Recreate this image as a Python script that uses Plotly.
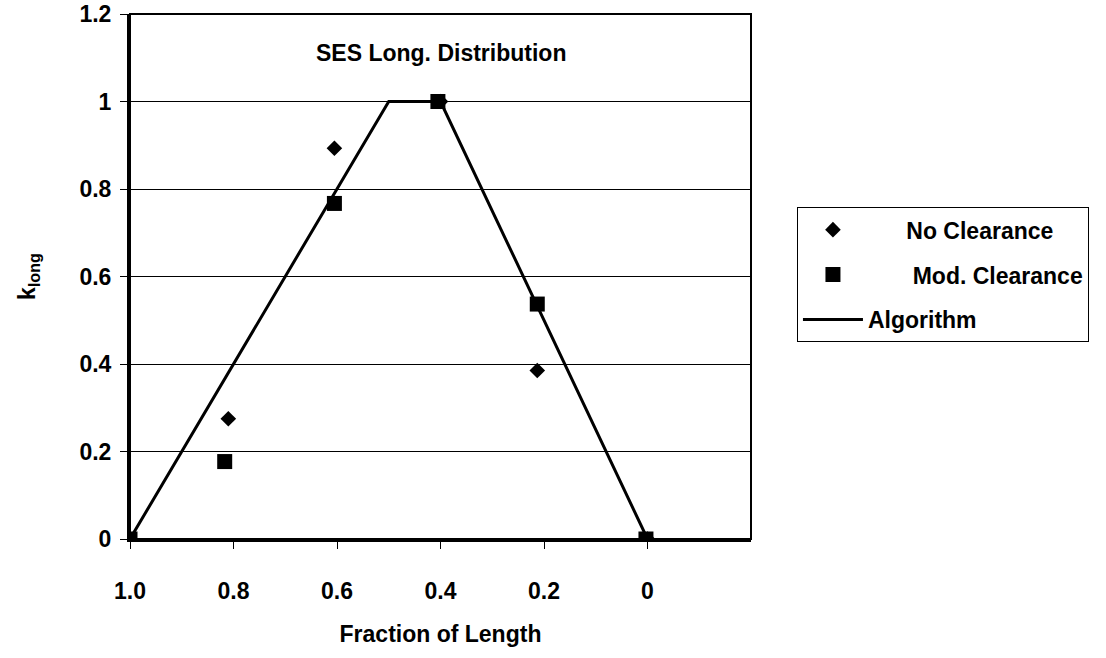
import plotly.graph_objects as go

# ---- data ----
x_ticks = [1.0, 0.8, 0.6, 0.4, 0.2, 0.0]
x_tick_labels = ["1.0", "0.8", "0.6", "0.4", "0.2", "0"]
y_ticks = [0, 0.2, 0.4, 0.6, 0.8, 1.0, 1.2]
y_tick_labels = ["0", "0.2", "0.4", "0.6", "0.8", "1", "1.2"]

no_clear_x = [1.0, 0.81, 0.605, 0.4, 0.213, 0.0]
no_clear_y = [0.0, 0.275, 0.893, 1.0, 0.385, 0.0]

mod_clear_x = [1.0, 0.817, 0.605, 0.405, 0.213, 0.003]
mod_clear_y = [0.0, 0.177, 0.767, 1.0, 0.537, 0.0]

algo_x = [1.0, 0.5, 0.4, 0.0]
algo_y = [0.0, 1.0, 1.0, 0.0]

FONT = "Liberation Sans, Arial, sans-serif"
FS = 23

fig = go.Figure()
fig.add_trace(go.Scatter(
    x=algo_x, y=algo_y, mode="lines", name="Algorithm",
    line=dict(color="black", width=3), showlegend=False))
fig.add_trace(go.Scatter(
    x=no_clear_x, y=no_clear_y, mode="markers", name="      No Clearance",
    legendgroup="a",
    marker=dict(symbol="diamond", size=12, color="black")))
fig.add_trace(go.Scatter(
    x=mod_clear_x, y=mod_clear_y, mode="markers", name="       Mod. Clearance",
    legendgroup="b",
    marker=dict(symbol="square", size=15, color="black")))
# legend-only entry for the line so it appears last
fig.add_trace(go.Scatter(
    x=[None], y=[None], mode="lines", name="Algorithm", legendgroup="c",
    line=dict(color="black", width=3)))

fig.update_layout(
    width=1106, height=658,
    margin=dict(l=130, r=355, t=14, b=119),
    paper_bgcolor="white", plot_bgcolor="white",
    font=dict(family=FONT, size=FS, color="black", weight="bold"),
    showlegend=True,
    legend=dict(
        x=1.074, y=0.632, xanchor="left", yanchor="top",
        bordercolor="black", borderwidth=1, bgcolor="white",
        font=dict(family=FONT, size=FS, color="black", weight="bold"),
        itemwidth=60, tracegroupgap=12, traceorder="grouped",
    ),
    annotations=[dict(
        text="SES Long. Distribution", x=0.5, y=0.925, xref="paper", yref="paper",
        showarrow=False, font=dict(family=FONT, size=FS, color="black", weight="bold"),
        xanchor="center", yanchor="middle")],
)

fig.update_xaxes(
    range=[1.0, -0.2], tickvals=x_ticks, ticktext=x_tick_labels,
    showgrid=False, zeroline=False, automargin=False,
    showline=True, linecolor="black", linewidth=3, mirror=False,
    ticks="outside", ticklen=7, tickwidth=1, tickcolor="black",
    ticklabelstandoff=22,
    title=dict(text="Fraction of Length", standoff=24,
               font=dict(family=FONT, size=FS, color="black", weight="bold")),
)
fig.update_yaxes(
    range=[0, 1.2], tickvals=y_ticks, ticktext=y_tick_labels,
    showgrid=True, gridcolor="black", gridwidth=1, zeroline=False, automargin=False,
    showline=True, linecolor="black", linewidth=3, mirror=False,
    ticks="outside", ticklen=7, tickwidth=1, tickcolor="black",
    ticklabelstandoff=4,
    title=dict(text="k<sub>long</sub>", standoff=38,
               font=dict(family=FONT, size=FS, color="black", weight="bold")),
)

# frame around the plot area (top and right edges)
fig.add_shape(type="rect", xref="paper", yref="paper", x0=0, y0=0, x1=1, y1=1,
              line=dict(color="black", width=2), layer="above")

fig.write_html("out.html")
